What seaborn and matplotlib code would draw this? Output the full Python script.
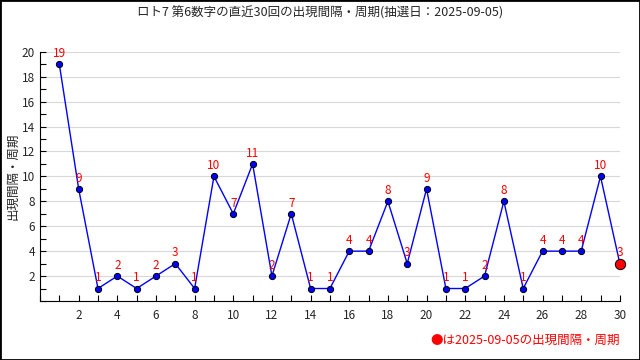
import matplotlib
matplotlib.use('Agg')
import matplotlib.pyplot as plt
import seaborn as sns
import pandas as pd
from matplotlib.ticker import MultipleLocator

sns.set_style('white')
plt.rcParams['font.family'] = ['Noto Sans CJK JP', 'DejaVu Sans']

# data
draws = list(range(1, 31))
intervals = [19, 9, 1, 2, 1, 2, 3, 1, 10, 7, 11, 2, 7, 1, 1,
             4, 4, 8, 3, 9, 1, 1, 2, 8, 1, 4, 4, 4, 10, 3]
title = 'ロト7 第6数字の直近30回の出現間隔・周期(抽選日：2025-09-05)'
ylabel = '出現間隔・周期'
note = '●は2025-09-05の出現間隔・周期'

df = pd.DataFrame({'draw': draws, 'interval': intervals})

fig = plt.figure(figsize=(6.4, 3.6), dpi=100)
ax = fig.add_axes([0.0625, 0.164, 0.906, 0.692])

sns.lineplot(data=df, x='draw', y='interval', ax=ax, color='blue', lw=1,
             marker='o', markersize=4.5, markerfacecolor='blue',
             markeredgecolor='black', markeredgewidth=0.7, clip_on=False)
last = df.iloc[[-1]]
sns.scatterplot(data=last, x='draw', y='interval', ax=ax, s=55,
                color='red', edgecolor='black', linewidth=0.7, zorder=5,
                clip_on=False)

for x, y in zip(draws, intervals):
    ax.annotate(str(y), (x, y), xytext=(0, 3), textcoords='offset points',
                ha='center', va='bottom', color='red', fontsize=8.5, zorder=6)

ax.set_xlim(0, 30)
ax.set_ylim(0, 20)
ax.xaxis.set_minor_locator(MultipleLocator(1))
ax.yaxis.set_minor_locator(MultipleLocator(1))
ax.set_xticks(range(2, 31, 2))
ax.set_yticks(range(2, 21, 2))
ax.tick_params(which='both', direction='in', length=4, width=0.8,
               labelsize=8.5, color='black', bottom=True, left=True)
ax.tick_params(axis='x', pad=6)
ax.grid(axis='y', which='major', color='#d8d8d8', lw=0.8)
ax.set_axisbelow(True)
for s in ['top', 'right']:
    ax.spines[s].set_visible(False)
for s in ['left', 'bottom']:
    ax.spines[s].set_color('black')
    ax.spines[s].set_linewidth(0.8)

ax.set_xlabel('')
ax.set_ylabel(ylabel, fontsize=9, labelpad=2)
fig.text(0.5, 0.965, title, ha='center', va='center', fontsize=9)
fig.text(0.968, 0.055, note, ha='right', va='center', fontsize=9, color='red')

fig.patches.append(plt.Rectangle((0, 0), 1, 1, transform=fig.transFigure,
                                 fill=False, edgecolor='black', lw=2))
fig.savefig('out.png', dpi=100)
